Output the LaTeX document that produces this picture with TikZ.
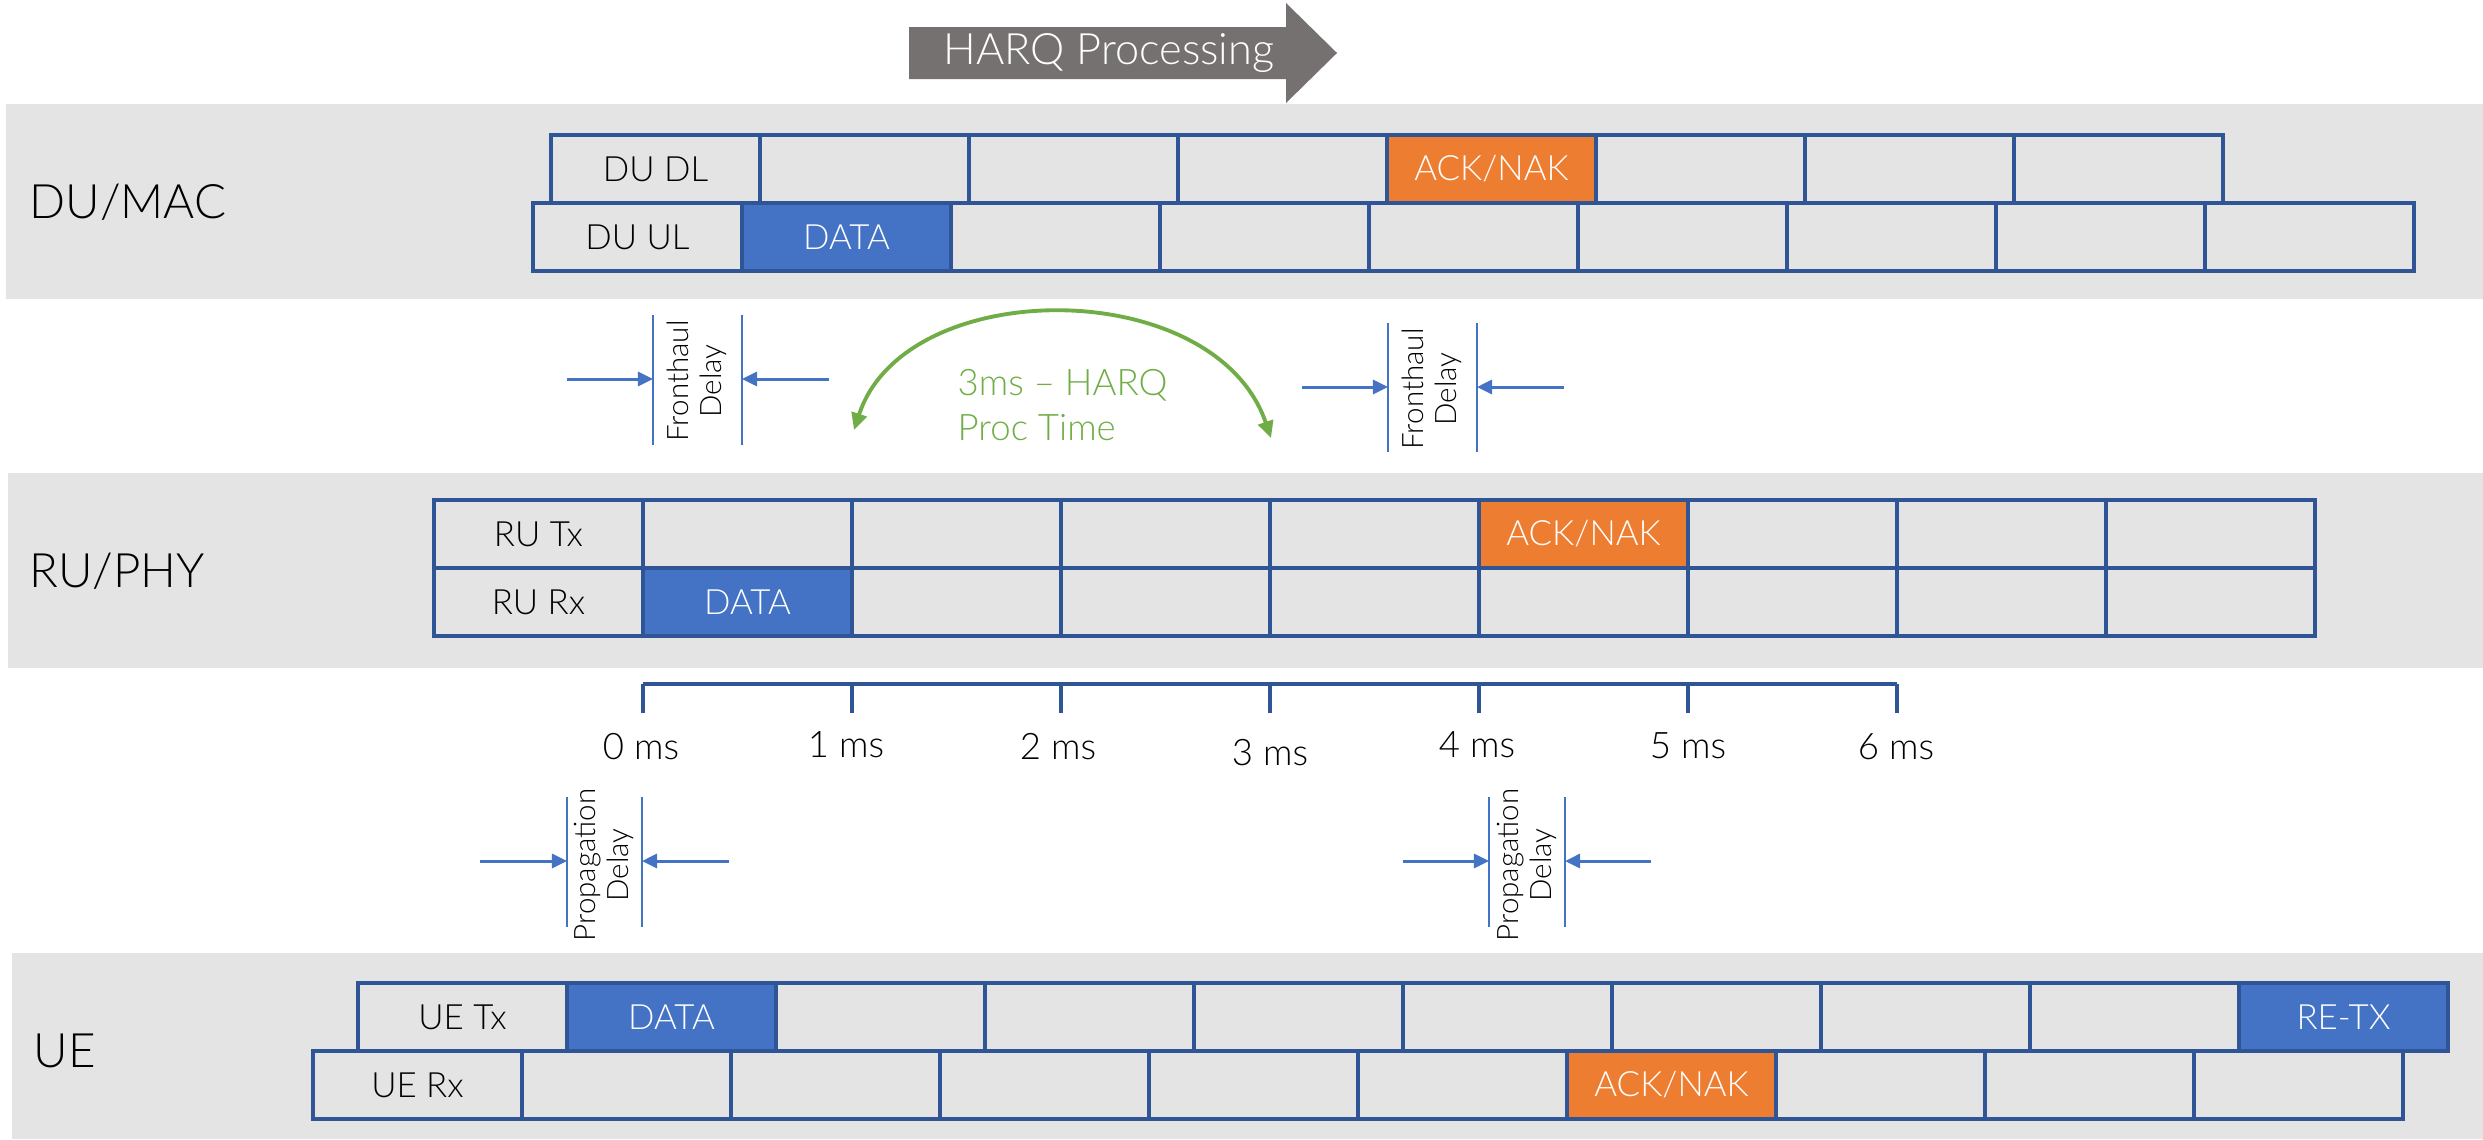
\documentclass[tikz,border=0pt]{standalone}
\usepackage{fontspec}
\setmainfont{Lato}[UprightFont=* Light]
\usetikzlibrary{arrows.meta}

\definecolor{bandgray}{HTML}{E4E4E4}
\definecolor{gridblue}{HTML}{2F5597}
\definecolor{datablue}{HTML}{4472C4}
\definecolor{ackorange}{HTML}{ED7D31}
\definecolor{harqgray}{HTML}{767171}
\definecolor{procgreen}{HTML}{70AD47}

\newcommand\acktext{ACK/NAK}

\begin{document}
\begin{tikzpicture}[x=0.01cm, y=-0.01cm,
  band/.style={fill=bandgray, draw=none},
  plain/.style={draw=gridblue, line width=1.25pt, minimum width=2.09cm,
    minimum height=0.68cm, inner sep=0pt, outer sep=0pt,
    font=\fontsize{9.9}{12}\selectfont},
  datacell/.style={plain, fill=datablue, text=white},
  ackcell/.style={plain, fill=ackorange, text=white},
  layer/.style={anchor=base west, inner sep=0pt, font=\fontsize{13.5}{16}\selectfont},
  mslabel/.style={inner sep=0pt, font=\fontsize{10.4}{12}\selectfont},
  axisline/.style={draw=gridblue, line width=1.25pt},
  dimline/.style={draw=datablue, line width=0.45pt},
  delayarrow/.style={draw=datablue, line width=0.85pt,
    -{Triangle[length=4.3pt, width=4pt]}},
  delaytext/.style={rotate=90, align=center, inner sep=0pt,
    font=\fontsize{8.4}{9.4}\selectfont},
  procarrow/.style={draw=procgreen, line width=1.1pt,
    {Triangle[length=4.8pt, width=4.4pt]}-{Triangle[length=4.8pt, width=4.4pt]}},
  proctext/.style={anchor=west, align=left, inner sep=0pt, text=procgreen,
    font=\fontsize{10.4}{12.8}\selectfont},
  harqtext/.style={inner sep=0pt, text=white, font=\fontsize{12.3}{14}\selectfont}
]
\useasboundingbox (0,0) rectangle (2483,1139);

% layer bands
\fill[band] (6,104) rectangle (2483,299);
\fill[band] (8,473) rectangle (2483,668);
\fill[band] (12,953) rectangle (2483,1139);

\node[layer] (lDU) at (29,218) {DU/MAC};
\node[layer] (lRU) at (29,587) {RU/PHY};
\node[layer] (lUE) at (33,1067) {UE};

% HARQ processing banner arrow
\fill[harqgray] (909,27) -- (1286,27) -- (1286,3) -- (1337,53)
  -- (1286,103) -- (1286,79) -- (909,79) -- cycle;
\node[harqtext] (harq) at (1109,53) {HARQ Processing};

% DU/MAC slots
\foreach \i/\t/\s in {0/DU DL/plain, 1//plain, 2//plain, 3//plain,
    4/\acktext/ackcell, 5//plain, 6//plain, 7//plain}
  \node[\s] (dl\i) at ({655.5+209*\i},169) {\t};
\foreach \i/\t/\s in {0/DU UL/plain, 1/DATA/datacell, 2//plain, 3//plain,
    4//plain, 5//plain, 6//plain, 7//plain, 8//plain}
  \node[\s] (ul\i) at ({637.5+209*\i},237) {\t};

% RU/PHY slots
\foreach \i/\t/\s in {0/RU Tx/plain, 1//plain, 2//plain, 3//plain, 4//plain,
    5/\acktext/ackcell, 6//plain, 7//plain, 8//plain}
  \node[\s] (rt\i) at ({538.5+209*\i},534) {\t};
\foreach \i/\t/\s in {0/RU Rx/plain, 1/DATA/datacell, 2//plain, 3//plain,
    4//plain, 5//plain, 6//plain, 7//plain, 8//plain}
  \node[\s] (rr\i) at ({538.5+209*\i},602) {\t};

% UE slots
\foreach \i/\t/\s in {0/UE Tx/plain, 1/DATA/datacell, 2//plain, 3//plain,
    4//plain, 5//plain, 6//plain, 7//plain, 8//plain, 9/RE-TX/datacell}
  \node[\s] (ut\i) at ({462.5+209*\i},1017) {\t};
\foreach \i/\t/\s in {0/UE Rx/plain, 1//plain, 2//plain, 3//plain, 4//plain,
    5//plain, 6/\acktext/ackcell, 7//plain, 8//plain, 9//plain}
  \node[\s] (ur\i) at ({417.5+209*\i},1085) {\t};

% time axis
\foreach \i in {0,...,6}
  \coordinate (t\i) at ({643+209*\i},684);
\draw[axisline] (t0) -- (t6);
\foreach \i in {0,...,6}
  \draw[axisline] (t\i) -- ++(0,29);
\node[mslabel] (ms0) at (641,747) {0 ms};
\node[mslabel] (ms1) at (846,745) {1 ms};
\node[mslabel] (ms2) at (1058,747) {2 ms};
\node[mslabel] (ms3) at (1270,753) {3 ms};
\node[mslabel] (ms4) at (1477,745) {4 ms};
\node[mslabel] (ms5) at (1688,746) {5 ms};
\node[mslabel] (ms6) at (1896,747) {6 ms};

% fronthaul delay, uplink
\coordinate (fa1) at (653,315); \coordinate (fa2) at (653,445);
\coordinate (fb1) at (742,315); \coordinate (fb2) at (742,445);
\draw[dimline] (fa1) -- (fa2);
\draw[dimline] (fb1) -- (fb2);
\coordinate (faIn) at (567,379); \coordinate (fbIn) at (829,379);
\draw[delayarrow] (faIn) -- (fa1 |- faIn);
\draw[delayarrow] (fbIn) -- (fb1 |- fbIn);
\node[delaytext] (fhL) at (697,381) {Fronthaul\\Delay};

% fronthaul delay, downlink
\coordinate (fc1) at (1388,323); \coordinate (fc2) at (1388,452);
\coordinate (fd1) at (1477,323); \coordinate (fd2) at (1477,452);
\draw[dimline] (fc1) -- (fc2);
\draw[dimline] (fd1) -- (fd2);
\coordinate (fcIn) at (1302,387); \coordinate (fdIn) at (1564,387);
\draw[delayarrow] (fcIn) -- (fc1 |- fcIn);
\draw[delayarrow] (fdIn) -- (fd1 |- fdIn);
\node[delaytext] (fhR) at (1432,389) {Fronthaul\\Delay};

% propagation delay, uplink
\coordinate (pa1) at (567,797); \coordinate (pa2) at (567,927);
\coordinate (pb1) at (642,797); \coordinate (pb2) at (642,927);
\draw[dimline] (pa1) -- (pa2);
\draw[dimline] (pb1) -- (pb2);
\coordinate (paIn) at (480,861); \coordinate (pbIn) at (729,861);
\draw[delayarrow] (paIn) -- (pa1 |- paIn);
\draw[delayarrow] (pbIn) -- (pb1 |- pbIn);
\node[delaytext] (pdL) at (604,865) {Propagation\\Delay};

% propagation delay, downlink
\coordinate (pc1) at (1489,797); \coordinate (pc2) at (1489,927);
\coordinate (pd1) at (1565,797); \coordinate (pd2) at (1565,927);
\draw[dimline] (pc1) -- (pc2);
\draw[dimline] (pd1) -- (pd2);
\coordinate (pcIn) at (1403,861); \coordinate (pdIn) at (1651,861);
\draw[delayarrow] (pcIn) -- (pc1 |- pcIn);
\draw[delayarrow] (pdIn) -- (pd1 |- pdIn);
\node[delaytext] (pdR) at (1527,865) {Propagation\\Delay};

% HARQ processing time
\coordinate (arcL) at (854,430);
\coordinate (arcR) at (1271,438);
\draw[procarrow] (arcL) .. controls (905,274) and (1215,274) .. (arcR);
\node[proctext] (proc) at (957,405) {3ms – HARQ\\Proc Time};
\end{tikzpicture}
\end{document}
